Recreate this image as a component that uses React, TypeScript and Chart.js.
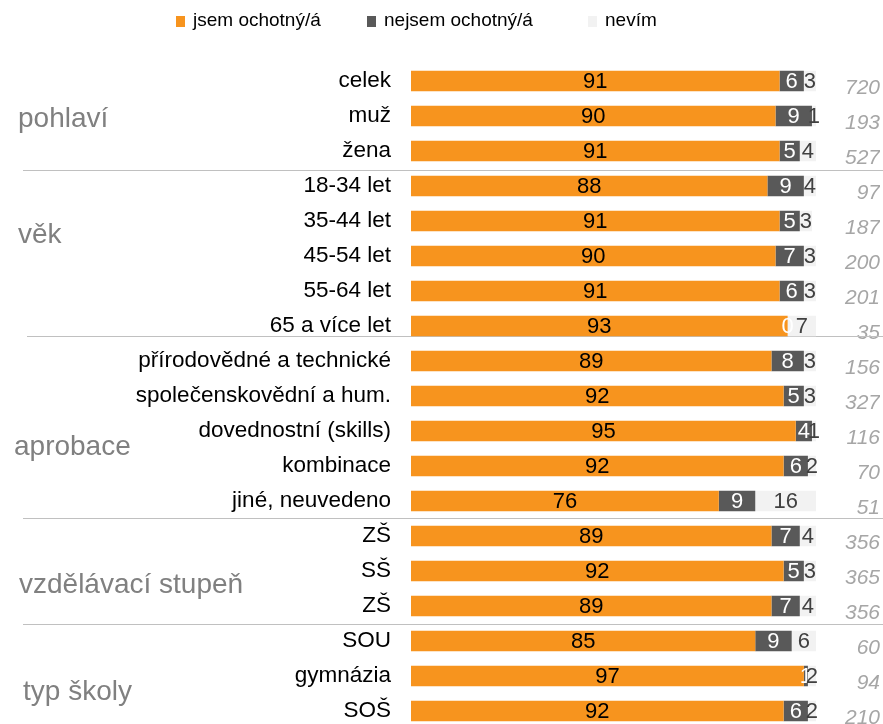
import React, { useEffect, useRef } from "react";
import { Chart, registerables } from "chart.js";

Chart.register(...registerables);

// ---------- data ----------
const categories = [
  "celek", "muž", "žena",
  "18-34 let", "35-44 let", "45-54 let", "55-64 let", "65 a více let",
  "přírodovědné a technické", "společenskovědní a hum.", "dovednostní (skills)", "kombinace", "jiné, neuvedeno",
  "ZŠ", "SŠ", "ZŠ",
  "SOU", "gymnázia", "SOŠ",
];
const willing = [91, 90, 91, 88, 91, 90, 91, 93, 89, 92, 95, 92, 76, 89, 92, 89, 85, 97, 92];
const unwilling = [6, 9, 5, 9, 5, 7, 6, 0, 8, 5, 4, 6, 9, 7, 5, 7, 9, 1, 6];
const dontKnow = [3, 1, 4, 4, 3, 3, 3, 7, 3, 3, 1, 2, 16, 4, 3, 4, 6, 2, 2];
const sampleSizes = ["720", "193", "527", "97", "187", "200", "201", "35", "156", "327", "116", "70", "51", "356", "365", "356", "60", "94", "210"];
const seriesNames = ["jsem ochotný/á", "nejsem ochotný/á", "nevím"];
const groupNames = ["pohlaví", "věk", "aprobace", "vzdělávací stupeň", "typ školy"];

// ---------- layout / style ----------
const FONT = "'Liberation Sans', Arial, Helvetica, sans-serif";
const COLORS = ["#F7941E", "#595959", "#F2F2F2"];
const LABEL_COLORS = ["#000000", "#FFFFFF", "#404040"];
const groupLabelX = [18, 18, 14, 19, 23];
const groupLabelRow = [1.314, 4.629, 10.686, 14.629, 17.686];
const separatorRow = [2.543, 7.286, 12.486, 15.514];
const separatorX = [23, 27, 23, 23];
const legendX = [176, 367, 588];
const CANVAS_H = 762;

const decorPlugin = {
  id: "decor",
  beforeDatasetsDraw(chart: any) {
    const ctx = chart.ctx;
    const y = chart.scales.y;
    ctx.save();
    ctx.strokeStyle = "#C0C0C0";
    ctx.lineWidth = 1;
    separatorRow.forEach((r, i) => {
      const py = Math.round(y.getPixelForValue(r)) + 0.5;
      ctx.beginPath();
      ctx.moveTo(separatorX[i], py);
      ctx.lineTo(chart.width, py);
      ctx.stroke();
    });
    ctx.fillStyle = "#808080";
    ctx.font = `28px ${FONT}`;
    ctx.textAlign = "left";
    ctx.textBaseline = "alphabetic";
    groupNames.forEach((g, i) => {
      ctx.fillText(g, groupLabelX[i], y.getPixelForValue(groupLabelRow[i]));
    });
    ctx.restore();
  },
  afterDraw(chart: any) {
    const ctx = chart.ctx;
    ctx.save();
    ctx.font = `19px ${FONT}`;
    ctx.textBaseline = "middle";
    ctx.textAlign = "left";
    seriesNames.forEach((n, i) => {
      ctx.fillStyle = COLORS[i];
      ctx.fillRect(legendX[i], 16, 9, 11);
      ctx.fillStyle = "#000000";
      ctx.fillText(n, legendX[i] + 17, 21);
    });
    ctx.restore();
  },
};

const barLabelPlugin = {
  id: "barLabels",
  afterDatasetsDraw(chart: any) {
    const ctx = chart.ctx;
    const right = chart.chartArea.right;
    ctx.save();
    ctx.font = `22px ${FONT}`;
    ctx.textAlign = "center";
    ctx.textBaseline = "middle";
    chart.data.datasets.forEach((ds: any, di: number) => {
      const meta = chart.getDatasetMeta(di);
      meta.data.forEach((el: any, i: number) => {
        const v = ds.data[i];
        const x1 = Math.min(el.x, right);
        const x0 = Math.min(el.base, right);
        ctx.fillStyle = LABEL_COLORS[di];
        ctx.fillText(String(v), (x0 + x1) / 2, el.y + 1);
      });
    });
    ctx.restore();
  },
};

export default function App() {
  const ref = useRef<HTMLCanvasElement | null>(null);
  useEffect(() => {
    if (!ref.current) return;
    const chart = new Chart(ref.current, {
      type: "bar",
      data: {
        labels: categories,
        datasets: [willing, unwilling, dontKnow].map((d, i) => ({
          label: seriesNames[i],
          data: d,
          backgroundColor: COLORS[i],
          borderWidth: 0,
          barPercentage: 0.58,
          categoryPercentage: 1,
        })),
      },
      options: {
        indexAxis: "y",
        responsive: false,
        animation: false,
        layout: { padding: { top: 63.5, right: 3, bottom: CANVAS_H - 728.5, left: 0 } },
        plugins: { legend: { display: false }, tooltip: { enabled: false } },
        scales: {
          x: { stacked: true, min: 0, max: 100, display: false },
          y: {
            stacked: true,
            position: "left",
            grid: { display: false, drawTicks: false },
            border: { display: false },
            ticks: {
              autoSkip: false,
              padding: 20,
              color: "#000000",
              font: { family: FONT, size: 22.5 },
            },
            afterFit: (s: any) => { s.width = 411; },
          },
          y2: {
            type: "category",
            labels: sampleSizes,
            position: "right",
            offset: true,
            grid: { display: false, drawTicks: false },
            border: { display: false },
            ticks: {
              autoSkip: false,
              crossAlign: "far",
              labelOffset: 7,
              padding: 0,
              color: "#A6A6A6",
              font: { family: FONT, size: 21, style: "italic" },
            },
            afterFit: (s: any) => { s.width = 64; },
          },
        },
      } as any,
      plugins: [decorPlugin, barLabelPlugin],
    });
    return () => chart.destroy();
  }, []);
  return (
    <div style={{ position: "fixed", left: 0, top: 0, width: 883, height: 724, overflow: "hidden", background: "#fff" }}>
      <canvas ref={ref} width={883} height={CANVAS_H} style={{ display: "block", width: 883, height: CANVAS_H }} />
    </div>
  );
}
